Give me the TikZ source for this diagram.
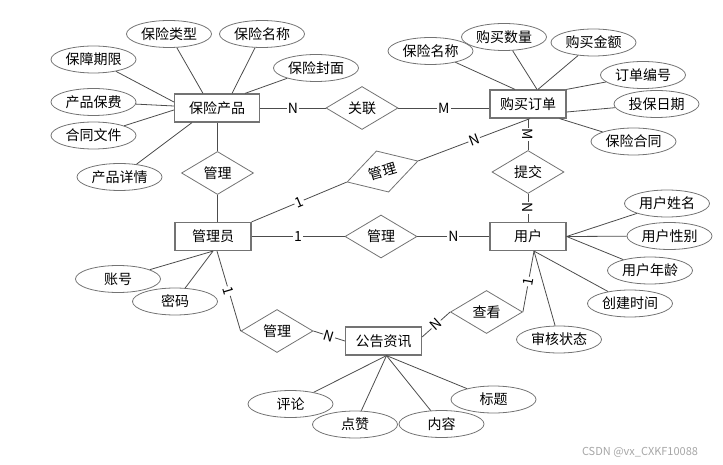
\documentclass[tikz,border=0pt]{standalone}
\usepackage{fontspec}
\newfontfamily\cjk{Noto Sans CJK SC}
\usetikzlibrary{shapes.geometric}

\begin{document}
\begin{tikzpicture}[x=1pt, y=-1pt,
    every node/.style={font=\cjk\fontsize{14}{16}\selectfont},
    entity/.style={draw=black!55, line width=1.2pt, minimum width=76pt, minimum height=28pt, inner sep=2pt},
    attr/.style={ellipse, draw=black!55, line width=0.8pt, minimum width=85pt, minimum height=27pt, inner sep=0pt},
    rel/.style={diamond, draw=black!55, line width=0.8pt, minimum width=72pt, minimum height=43pt, aspect=1.67, inner sep=0pt},
    lbl/.style={fill=white, inner sep=1pt, sloped, midway},
    link/.style={draw=black!70, line width=0.8pt}]
    \useasboundingbox (0,0) rectangle (723,465);

    \node[entity, minimum width=85pt] (cp) at (217,108) {保险产品};
    \node[entity] (dd) at (528,104) {购买订单};
    \node[entity] (gly) at (213,236.5) {管理员};
    \node[entity] (yh) at (528,236.5) {用户};
    \node[entity] (gg) at (383.5,341) {公告资讯};

    \node[rel] (gl) at (362,108) {关联};
    \node[rel] (gl1) at (217.5,173) {管理};
    \node[rel, rotate=16.5, minimum width=74pt] (gl2) at (382.5,171.5) {管理};
    \node[rel] (gl3) at (381,236.5) {管理};
    \node[rel] (tj) at (528,172) {提交};
    \node[rel] (gl4) at (277,331) {管理};
    \node[rel] (ck) at (486.5,312) {查看};

    \node[attr] (cp1) at (93.5,59.5) {保障期限};
    \node[attr] (cp2) at (169,34) {保险类型};
    \node[attr] (cp3) at (262,34) {保险名称};
    \node[attr] (cp4) at (316,68) {保险封面};
    \node[attr] (cp5) at (93.5,102) {产品保费};
    \node[attr] (cp6) at (93.5,135.5) {合同文件};
    \node[attr] (cp7) at (119.5,177) {产品详情};

    \node[attr] (dd1) at (430.5,51) {保险名称};
    \node[attr] (dd2) at (504,37) {购买数量};
    \node[attr] (dd3) at (593.5,42.5) {购买金额};
    \node[attr] (dd4) at (643,75) {订单编号};
    \node[attr] (dd5) at (656.5,104) {投保日期};
    \node[attr] (dd6) at (633.5,141.5) {保险合同};

    \node[attr] (yh1) at (667,203.5) {用户姓名};
    \node[attr] (yh2) at (669.5,236) {用户性别};
    \node[attr] (yh3) at (650,270.5) {用户年龄};
    \node[attr] (yh4) at (630,303.5) {创建时间};
    \node[attr] (yh5) at (559,339.5) {审核状态};

    \node[attr] (gly1) at (118,279) {账号};
    \node[attr] (gly2) at (175,301.5) {密码};

    \node[attr] (gg1) at (290.5,404) {评论};
    \node[attr] (gg2) at (355,424.5) {点赞};
    \node[attr] (gg3) at (441.5,424) {内容};
    \node[attr] (gg4) at (493.5,399.5) {标题};

    \draw[link] (cp1) -- ([yshift=6pt]cp.west);
    \draw[link] (cp5) -- ([yshift=2pt]cp.west);
    \draw[link] (cp6) -- ([yshift=-2pt]cp.west);
    \draw[link] (cp7) -- ([xshift=-25pt]cp.south);
    \draw[link] (cp2) -- ([xshift=-14pt]cp.north);
    \draw[link] (cp3) -- ([xshift=15pt]cp.north);
    \draw[link] (cp4) -- ([xshift=28pt]cp.north);

    \draw[link] (dd1) -- ([xshift=-13pt]dd.north);
    \draw[link] (dd2) -- ([xshift=9pt]dd.north);
    \draw[link] (dd3) -- ([xshift=10pt]dd.north);
    \draw[link] (dd4) -- (dd.north east);
    \draw[link] (dd5) -- ([yshift=-8pt]dd.east);
    \draw[link] (dd6) -- ([xshift=-7pt]dd.south east);

    \draw[link] (yh1) -- (yh.east);
    \draw[link] (yh2) -- (yh.east);
    \draw[link] (yh3) -- (yh.east);
    \draw[link] (yh4) -- ([xshift=6pt]yh.south);
    \draw[link] (yh5) -- ([xshift=6pt]yh.south);

    \draw[link] (gly1) -- (gly.south);
    \draw[link] (gly2) -- (gly.south);

    \draw[link] (gg1) -- ([xshift=3pt]gg.south);
    \draw[link] (gg2) -- ([xshift=3pt]gg.south);
    \draw[link] (gg3) -- ([xshift=3pt]gg.south);
    \draw[link] (gg4) -- ([xshift=3pt]gg.south);

    \draw[link] (cp) -- (gl) node[lbl] {N};
    \draw[link] (gl.east) -- (gl.east -| dd.west) node[lbl] {M};
    \draw[link] (gl1.north) -- (gl1.north |- cp.south);
    \draw[link] (gl1.south) -- (gl1.south |- gly.north);
    \draw[link] (gly.north east) -- (gl2.west) node[lbl] {1};
    \draw[link] (gl2.east) -- ([xshift=2pt]dd.south) node[lbl] {N};
    \draw[link] (dd.south) -- (tj.north) node[lbl] {M};
    \draw[link] (tj.south) -- (yh.north) node[lbl] {N};
    \draw[link] (gly) -- (gl3) node[lbl] {1};
    \draw[link] (gl3) -- (yh) node[lbl] {N};
    \draw[link] ([xshift=4pt]gly.south) -- (gl4.west) node[lbl] {1};
    \draw[link] (gl4.east) -- (gg.west) node[lbl] {N};
    \draw[link] ([yshift=4pt]gg.east) -- (ck.west) node[lbl] {N};
    \draw[link] (ck.east) -- ([xshift=6pt]yh.south) node[lbl] {1};

    \node[font=\cjk\fontsize{11}{13}\selectfont, text=black!35] (wm) at (640,452) {CSDN @vx\_CXKF10088};
\end{tikzpicture}
\end{document}
